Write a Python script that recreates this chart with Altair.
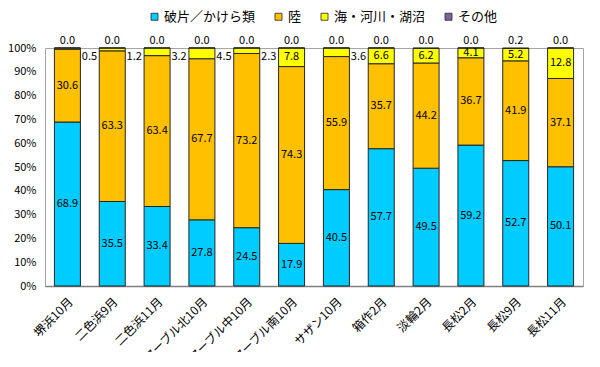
import altair as alt
import pandas as pd

categories = ["堺浜10月", "二色浜9月", "二色浜11月", "マーブル北10月", "マーブル中10月",
              "マーブル南10月", "サザン10月", "箱作2月", "淡輪2月", "長松2月", "長松9月", "長松11月"]
series = ["破片／かけら類", "陸", "海・河川・湖沼", "その他"]
colors = ["#00CCFF", "#FFC000", "#FFFF00", "#8064A2"]

broken = [68.9, 35.5, 33.4, 27.8, 24.5, 17.9, 40.5, 57.7, 49.5, 59.2, 52.7, 50.1]
land = [30.6, 63.3, 63.4, 67.7, 73.2, 74.3, 55.9, 35.7, 44.2, 36.7, 41.9, 37.1]
sea = [0.5, 1.2, 3.2, 4.5, 2.3, 7.8, 3.6, 6.6, 6.2, 4.1, 5.2, 12.8]
other = [0.0, 0.0, 0.0, 0.0, 0.0, 0.0, 0.0, 0.0, 0.0, 0.0, 0.2, 0.0]
y_ticks = [0, 10, 20, 30, 40, 50, 60, 70, 80, 90, 100]

# categories whose small 海・河川・湖沼 label sits beside the bar
sea_outside = ["堺浜10月", "二色浜9月", "二色浜11月", "マーブル北10月", "マーブル中10月", "サザン10月"]

rows = []
for i, c in enumerate(categories):
    for j, (s, vals) in enumerate(zip(series, [broken, land, sea, other])):
        rows.append({"cat": c, "series": s, "idx": j, "value": vals[i],
                     "outside": c in sea_outside})
df = pd.DataFrame(rows)

FONT = "Noto Sans CJK JP"

x_axis = alt.Axis(title=None, labelAngle=-45, labelAlign="right", labelBaseline="top",
                  labelFontSize=12, labelColor="#000000", ticks=False, labelOverlap=False,
                  domainColor="#808080", domainWidth=1.5, labelPadding=10, labelFont=FONT)
x_scale = alt.Scale(paddingInner=0.42, paddingOuter=0.21)
y_axis = alt.Axis(title=None, values=y_ticks, labelExpr="datum.value + '%'",
                  grid=False, ticks=False, domain=False, labelFontSize=11, labelOverlap=False,
                  labelColor="#000000", labelPadding=9, labelFont=FONT)
y_scale = alt.Scale(domain=[0, 100], nice=False)


def xe():
    return alt.X("cat:N", sort=categories, scale=x_scale, axis=x_axis)


base = alt.Chart(df)

bars = base.mark_bar(stroke="#262626", strokeWidth=1).encode(
    x=xe(),
    y=alt.Y("value:Q", stack="zero", scale=y_scale, axis=y_axis),
    color=alt.Color("series:N", scale=alt.Scale(domain=series, range=colors),
                    legend=alt.Legend(title=None, orient="none", legendX=103, legendY=-38,
                                      direction="horizontal", symbolType="square", symbolSize=49,
                                      symbolStrokeColor="#262626", symbolStrokeWidth=0.8,
                                      labelFontSize=13, labelFont=FONT, columnPadding=16,
                                      labelOffset=3, labelColor="#000000")),
    order=alt.Order("idx:Q"),
)

stacked = base.transform_stack(
    stack="value", groupby=["cat"], as_=["v0", "v1"], sort=[alt.SortField("idx")]
).transform_calculate(mid="(datum.v0 + datum.v1) / 2")

txt_kw = dict(fontSize=11, font=FONT, color="#000000")

inner = stacked.transform_filter(
    "datum.idx <= 1 || (datum.idx == 2 && !datum.outside)"
).mark_text(baseline="middle", **txt_kw).encode(
    x=xe(),
    y=alt.Y("mid:Q", scale=y_scale, axis=y_axis),
    text=alt.Text("value:Q", format=".1f"),
)

outside = stacked.transform_filter(
    "datum.idx == 2 && datum.outside"
).mark_text(baseline="middle", dx=22, **txt_kw).encode(
    x=xe(),
    y=alt.value(9),
    text=alt.Text("value:Q", format=".1f"),
)

top = stacked.transform_filter("datum.idx == 3").mark_text(baseline="middle", **txt_kw).encode(
    x=xe(),
    y=alt.value(-7),
    text=alt.Text("value:Q", format=".1f"),
)

chart = alt.layer(bars, inner, outside, top).properties(
    width=538, height=238,
    autosize=alt.AutoSizeParams(type="none"),
    padding={"left": 37, "top": 40, "right": 9, "bottom": 66},
).configure_view(stroke="#a6a6a6", strokeWidth=1)

chart.save("out.html", embed_options={"renderer": "svg", "actions": False})
